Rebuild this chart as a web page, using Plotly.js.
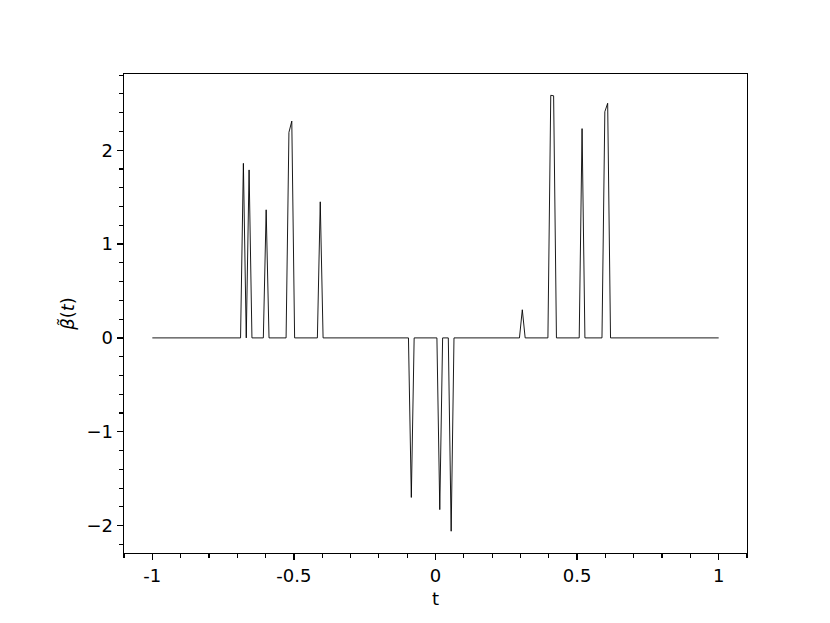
<!DOCTYPE html>
<html>
<head>
<meta charset="utf-8">
<script src="https://cdn.plot.ly/plotly-3.0.1.min.js"></script>
<style>html,body{margin:0;padding:0;background:#fff;}#chart{width:830px;height:623px;}</style>
</head>
<body>
<div id="chart"></div>
<script>
// Breakpoints of the piecewise-linear curve beta~(t) (zero between spikes)
const tVals = [
  -1.0,
  -0.6884, -0.6784, -0.6683, -0.6583, -0.6482,
  -0.6080, -0.5980, -0.5879,
  -0.5276, -0.5176, -0.5075, -0.4975,
  -0.4171, -0.4070, -0.3970,
  -0.0955, -0.0854, -0.0754,
  0.0050, 0.0151, 0.0251,
  0.0452, 0.0553, 0.0653,
  0.2965, 0.3065, 0.3166,
  0.3970, 0.4070, 0.4171, 0.4271,
  0.5075, 0.5176, 0.5276,
  0.5879, 0.5980, 0.6080, 0.6181,
  1.0
];
const betaVals = [
  0,
  0, 1.86, 0, 1.79, 0,
  0, 1.365, 0,
  0, 2.19, 2.31, 0,
  0, 1.45, 0,
  0, -1.70, 0,
  0, -1.83, 0,
  0, -2.06, 0,
  0, 0.30, 0,
  0, 2.585, 2.58, 0,
  0, 2.23, 0,
  0, 2.41, 2.50, 0,
  0
];
const xTickVals = [-1, -0.5, 0, 0.5, 1];
const xTickText = ['-1', '-0.5', '0', '0.5', '1'];
const yTickVals = [-2, -1, 0, 1, 2];
const yTickText = ['\u22122', '\u22121', '0', '1', '2'];

const trace = {
  x: tVals, y: betaVals, type: 'scatter', mode: 'lines',
  line: {color: '#000000', width: 0.9}, hoverinfo: 'skip'
};
const font = {family: 'DejaVu Sans', size: 18, color: '#000'};
const layout = {
  width: 830, height: 623,
  margin: {l: 124, r: 83, t: 74, b: 70, pad: 0},
  paper_bgcolor: '#fff', plot_bgcolor: '#fff',
  font: font,
  showlegend: false,
  xaxis: {
    range: [-1.1, 1.1], showgrid: false, zeroline: false,
    showline: true, linecolor: '#000', linewidth: 1.4, mirror: true,
    ticks: 'outside', ticklen: 6, tickwidth: 1.4, tickcolor: '#000',
    tickmode: 'array', tickvals: xTickVals, ticktext: xTickText,
    minor: {dtick: 0.1, tick0: 0, ticks: 'outside', ticklen: 3.5, tickwidth: 1.1, tickcolor: '#000', showgrid: false},
    title: {text: 't', font: font, standoff: 7},
    tickfont: font
  },
  yaxis: {
    range: [-2.292, 2.812], showgrid: false, zeroline: false,
    showline: true, linecolor: '#000', linewidth: 1.4, mirror: true,
    ticks: 'outside', ticklen: 6, tickwidth: 1.4, tickcolor: '#000',
    tickmode: 'array', tickvals: yTickVals, ticktext: yTickText,
    minor: {dtick: 0.2, tick0: 0, ticks: 'outside', ticklen: 3.5, tickwidth: 1.1, tickcolor: '#000', showgrid: false},
    title: {text: '<i>β\u0303</i>(<i>t</i>)', font: font, standoff: 7},
    tickfont: font
  }
};
Plotly.newPlot('chart', [trace], layout, {displayModeBar: false, staticPlot: true});
</script>
</body>
</html>
